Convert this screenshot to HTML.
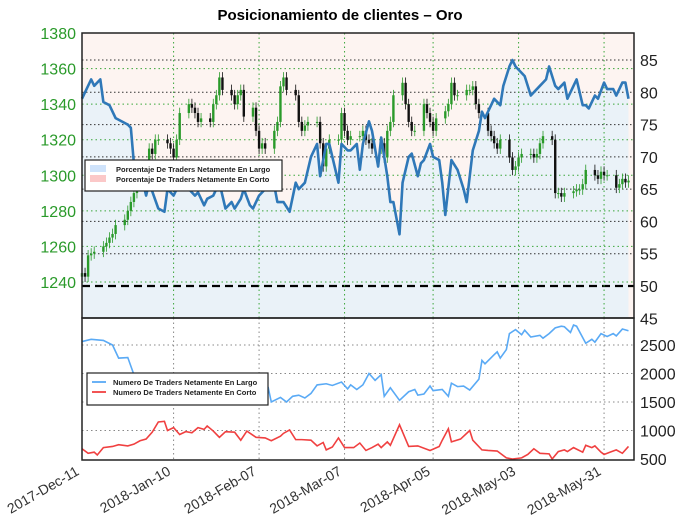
<!DOCTYPE html>
<html><head><meta charset="utf-8"><style>
body{margin:0;background:#fff;}
svg{display:block;font-family:"Liberation Sans",sans-serif;}
</style></head><body>
<svg id="c" width="679" height="516" viewBox="0 0 679 516" xmlns="http://www.w3.org/2000/svg">
<text x="340" y="20" text-anchor="middle" font-size="15" font-weight="bold" fill="#000">Posicionamiento de clientes – Oro</text>
</svg>
<script>
// ---- data ----
const monthLabels = ["2017-Dec-11","2018-Jan-10","2018-Feb-07","2018-Mar-07","2018-Apr-05","2018-May-03","2018-May-31"];
const monthDays = [0,30,58,86,115,143,171];
const priceTicks = [1240,1260,1280,1300,1320,1340,1360,1380];
const pctTicks = [45,50,55,60,65,70,75,80,85];
const countTicks = [500,1000,1500,2000,2500];
const goldClose = [1245,1243,1255,1256,1257,1260,1262,1265,1267,1272,1275,1280,1285,1290,1300,1305,1315,1312,1320,1320,1318,1315,1310,1320,1335,1340,1338,1335,1330,1332,1330,1340,1345,1355,1348,1345,1340,1345,1348,1333,1338,1325,1315,1318,1315,1325,1330,1350,1355,1348,1345,1330,1325,1328,1330,1330,1318,1305,1315,1320,1320,1335,1325,1320,1322,1322,1325,1320,1318,1315,1318,1310,1325,1330,1345,1352,1340,1330,1325,1325,1340,1335,1330,1325,1332,1336,1340,1352,1345,1345,1348,1348,1350,1340,1335,1325,1322,1318,1315,1320,1310,1303,1305,1310,1312,1312,1310,1312,1318,1322,1320,1290,1290,1288,1290,1291,1292,1292,1295,1303,1300,1298,1302,1300,1300,1293,1295,1298,1296,1297];
const pctDays = [0,3,4,6,7,9,11,15,16,17,19,21,22,25,27,28,30,31,33,35,37,38,40,41,43,45,47,49,50,52,53,55,56,58,60,61,62,64,66,68,70,71,73,75,77,78,80,81,82,84,85,87,88,90,91,92,94,95,97,98,100,101,102,104,105,107,108,110,111,112,114,115,117,118,119,121,123,125,126,128,130,131,132,134,135,137,138,140,141,142,144,145,147,150,151,152,153,155,156,158,159,161,162,164,165,166,168,169,171,172,174,175,177,178,179];
const pctLong = [79,82,81,82,78.5,78,76,75,74.5,69,68,64,66,62,61.5,65,64,65,67,65,64,64.5,62.5,63.5,64,66,62,63,62,63.5,65,62.5,62,64,65,67,68,63,63,61.5,66,65,66,70,72,67,72,72,70,66,72,71,71,72,68,72,75.5,74,68.5,73,67,63,63,58,66,70,70.5,67,69,69.5,72,70,69.5,66,61,69.5,68,65,63,71,74,77,76,78,79,78,81,84,85,84,83,82.5,79.5,81,81.5,82,84,81,80.5,81.5,79,81,82,78,78,77.5,79.5,79,81.5,80.5,80.5,79.5,81.5,81.5,79];
const longDays = [0,3,7,10,12,15,17,20,24,28,32,36,40,44,48,52,61,62,65,67,69,71,73,75,77,80,82,85,87,88,90,92,94,96,98,99,101,104,107,109,110,112,114,115,118,120,121,123,125,127,130,131,132,135,136,137,139,140,142,144,145,147,150,151,153,155,157,158,160,161,162,165,167,168,170,172,174,175,177,179];
const longCount = [2560,2600,2580,2500,2270,2280,1980,1850,1800,1750,1780,1700,1720,1680,1700,1650,1750,1500,1580,1500,1600,1620,1570,1650,1800,1820,1790,1850,1730,1800,1720,1800,2000,1880,1980,1600,1750,1530,1680,1720,1620,1640,1780,1700,1720,1600,1830,1770,1780,1710,1900,2230,2170,2330,2380,2270,2420,2700,2770,2680,2760,2640,2670,2620,2700,2800,2830,2820,2720,2850,2830,2530,2600,2550,2700,2650,2700,2660,2780,2750];
const shortDays = [0,2,4,5,7,10,12,15,17,19,21,23,25,27,28,30,32,34,36,38,40,41,43,45,47,50,52,54,57,60,62,65,66,68,70,72,75,77,79,80,82,84,86,89,91,93,95,97,98,100,101,104,107,110,114,117,118,120,121,124,127,128,131,133,136,139,141,144,146,148,150,153,154,156,158,159,161,164,165,167,168,170,171,173,175,177,179];
const shortCount = [680,600,620,570,700,720,750,730,760,820,850,970,1150,1160,1000,1050,930,980,960,1050,1020,1080,990,880,980,970,830,990,880,870,820,900,950,1010,840,840,830,730,790,660,710,870,700,700,780,650,700,760,700,800,740,1100,720,730,650,720,830,1030,800,850,1000,830,660,650,640,520,500,520,580,680,600,590,500,630,660,630,700,620,740,700,730,620,580,620,660,600,720];

// ---- scales ----
const L=82,R=634,T1=33,B1=318,T2=318,B2=460;
const xd=d=>L+d*3.053;
const yP=v=>33+(1380-v)*(282-33)/140;
const yPct=v=>286-(v-50)*(226/35);
const yC=v=>459-(v-500)*(114/2000);
const S='http://www.w3.org/2000/svg';
const svg=document.getElementById('c');
function mk(t,a,p){const e=document.createElementNS(S,t);for(const k in a)e.setAttribute(k,a[k]);(p||svg).appendChild(e);return e;}

// backgrounds
let e=mk('rect',{x:L,y:T1,width:R-L,height:B1-T1,fill:'#fdf4f1'});


// fill below pct line
let fp='M'+xd(pctDays[0])+','+B1;
pctDays.forEach((d,i)=>fp+=' L'+xd(d)+','+yPct(pctLong[i]));
fp+=' L'+xd(pctDays[pctDays.length-1])+','+B1+' Z';
e=mk('path',{d:fp,fill:'#eaf2f8'});



// gridlines top
pctTicks.forEach(v=>{if(v>45&&v<=85){const y=yPct(v);
 if(v===50){e=mk('line',{x1:L,x2:R,y1:y,y2:y,stroke:'#000','stroke-width':2.2,'stroke-dasharray':'8,5'});}
 else{e=mk('line',{x1:L,x2:R,y1:y,y2:y,stroke:'#333','stroke-width':1,'stroke-dasharray':'1.5,2.5'});}}});
priceTicks.forEach(v=>{const y=yP(v);e=mk('line',{x1:L,x2:R,y1:y,y2:y,stroke:'#3aa63a','stroke-width':1,'stroke-dasharray':'1.5,3'});});
monthDays.forEach((d,i)=>{if(i>0){const x=xd(d);
 e=mk('line',{x1:x,x2:x,y1:T1,y2:B1,stroke:'#3aa63a','stroke-width':1,'stroke-dasharray':'1.5,3'});
 e=mk('line',{x1:x,x2:x,y1:T2,y2:B2,stroke:'#888','stroke-width':1,'stroke-dasharray':'1.5,3'});}});
countTicks.forEach(v=>{if(v>500){const y=yC(v);e=mk('line',{x1:L,x2:R,y1:y,y2:y,stroke:'#888','stroke-width':1,'stroke-dasharray':'1.5,3'});}});

// candles
goldClose.forEach((c,i)=>{const w=Math.floor(i/5),dd=i%5;const d=w*7+dd;const o=i?goldClose[i-1]:c-2;
 const up=c>=o;const col=up?'#2a9a2a':'#111';const x=xd(d);
 const hi=Math.max(o,c)+3,lo=Math.min(o,c)-3;
 e=mk('line',{x1:x,x2:x,y1:yP(hi),y2:yP(lo),stroke:col,'stroke-width':0.8});
 
 const y1=yP(Math.max(o,c)),y2=yP(Math.min(o,c));
 e=mk('rect',{x:x-1.2,y:y1,width:2.4,height:Math.max(1,y2-y1),fill:col});
 });

// pct line
let pp='';pctDays.forEach((d,i)=>pp+=(i?' L':'M')+xd(d)+','+yPct(pctLong[i]));
e=mk('path',{d:pp,fill:'none',stroke:'#2f78b8','stroke-width':2.6,'stroke-linejoin':'round'});


// bottom lines
let lp='';longDays.forEach((d,i)=>lp+=(i?' L':'M')+xd(d)+','+yC(longCount[i]));
e=mk('path',{d:lp,fill:'none',stroke:'#5aaaf5','stroke-width':1.6});

let sp='';shortDays.forEach((d,i)=>sp+=(i?' L':'M')+xd(d)+','+yC(shortCount[i]));
e=mk('path',{d:sp,fill:'none',stroke:'#f04040','stroke-width':1.6});


// frames
e=mk('rect',{x:L,y:T1,width:R-L,height:B1-T1,fill:'none',stroke:'#222','stroke-width':1.5});

e=mk('rect',{x:L,y:T2,width:R-L,height:B2-T2,fill:'none',stroke:'#222','stroke-width':1.5});


// tick labels
priceTicks.forEach(v=>{e=mk('text',{x:76,y:yP(v)+6,'text-anchor':'end','font-size':16,fill:'#2a9a2a'});e.textContent=v;});
pctTicks.forEach(v=>{e=mk('text',{x:640,y:yPct(v)+6,'font-size':16,fill:'#222'});e.textContent=v;});
countTicks.forEach(v=>{e=mk('text',{x:640,y:yC(v)+6,'font-size':16,fill:'#222'});e.textContent=v;});
monthDays.forEach((d,i)=>{const x=xd(d)-2;e=mk('text',{x:x,y:474,'text-anchor':'end','font-size':14,fill:'#333',transform:'rotate(-30 '+x+' 474)'});e.textContent=monthLabels[i];});

// legends
function legend(x,y,w,h,items,kind,name){const g=mk('g',{});
 mk('rect',{x:x,y:y,width:w,height:h,fill:'#fff',stroke:'#222','stroke-width':1.2},g);
 items.forEach((it,i)=>{const yy=y+9+i*10;
  if(kind==='patch')mk('rect',{x:x+5,y:yy-4,width:16,height:7,fill:it[1]},g);
  else mk('line',{x1:x+5,x2:x+19,y1:yy,y2:yy,stroke:it[1],'stroke-width':1.8},g);
  const t=mk('text',{x:x+(kind==='patch'?31:26),y:yy+3,'font-size':7.5,'font-weight':'bold',fill:'#222'},g);t.textContent=it[0];});}
legend(85,160,197,31,[["Porcentaje De Traders Netamente En Largo","#cfe3fb"],["Porcentaje De Traders Netamente En Corto","#fbc8c8"]],'patch','top-legend');
legend(87,373,181,32,[["Numero De Traders Netamente En Largo","#5aaaf5"],["Numero De Traders Netamente En Corto","#f04040"]],'line','bottom-legend');
</script>
</body></html>
